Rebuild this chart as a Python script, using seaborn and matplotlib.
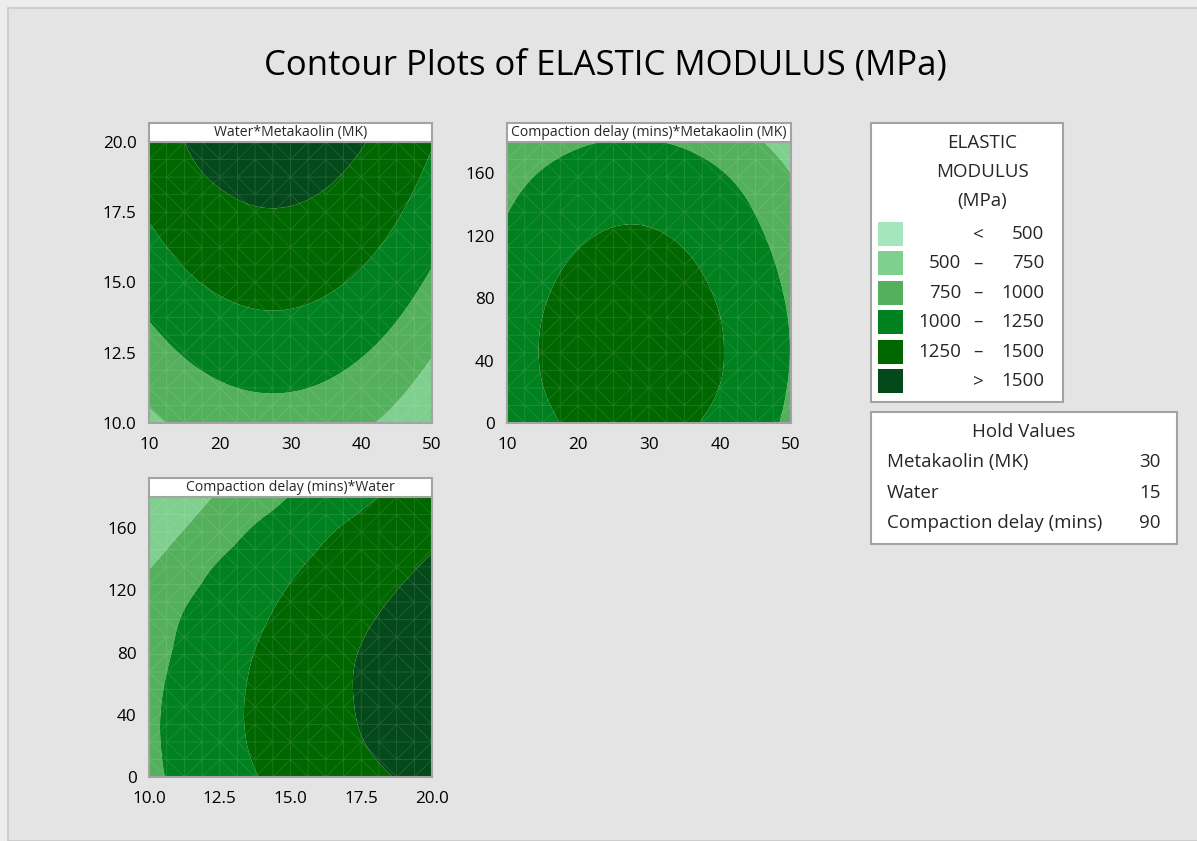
import numpy as np
import matplotlib
matplotlib.use("Agg")
import matplotlib.pyplot as plt
import matplotlib.tri as mtri
from matplotlib.patches import Rectangle
import seaborn as sns

# ---------------- data ----------------
mk_vals = [10, 15, 20, 25, 30, 35, 40, 45, 50]
water_vals = [10, 11.25, 12.5, 13.75, 15, 16.25, 17.5, 18.75, 20]
delay_vals = [0, 22.5, 45, 67.5, 90, 112.5, 135, 157.5, 180]

# rows: water, columns: metakaolin  (delay held at 90)
em_water_mk = [
    [705, 795, 860, 896, 896, 860, 788, 680, 536],
    [805, 906, 978, 1014, 1014, 978, 906, 798, 654],
    [908, 1016, 1088, 1124, 1124, 1088, 1016, 908, 764],
    [1010, 1118, 1190, 1226, 1226, 1190, 1118, 1010, 866],
    [1105, 1213, 1285, 1321, 1321, 1285, 1213, 1105, 961],
    [1192, 1300, 1372, 1408, 1408, 1372, 1300, 1192, 1048],
    [1271, 1379, 1451, 1487, 1487, 1451, 1379, 1271, 1127],
    [1342, 1450, 1522, 1558, 1558, 1522, 1450, 1342, 1198],
    [1405, 1500, 1585, 1621, 1621, 1585, 1513, 1405, 1261],
]
# rows: delay, columns: metakaolin  (water held at 15)
em_delay_mk = [
    [1097, 1205, 1287, 1325, 1325, 1280, 1200, 1097, 945],
    [1133, 1247, 1323, 1361, 1361, 1323, 1247, 1133, 981],
    [1147, 1261, 1337, 1375, 1375, 1337, 1261, 1147, 995],
    [1137, 1251, 1327, 1365, 1365, 1327, 1251, 1137, 985],
    [1105, 1219, 1295, 1333, 1333, 1295, 1219, 1105, 953],
    [1057, 1171, 1247, 1285, 1285, 1247, 1171, 1057, 905],
    [995, 1109, 1185, 1223, 1223, 1185, 1109, 995, 843],
    [912, 1026, 1102, 1140, 1140, 1102, 1026, 912, 760],
    [782, 896, 972, 1010, 1010, 972, 896, 782, 630],
]
# rows: delay, columns: water  (metakaolin held at 30)
em_delay_water = [
    [952, 1056, 1149, 1242, 1310, 1376, 1442, 1507, 1563],
    [964, 1072, 1176, 1271, 1345, 1420, 1494, 1560, 1625],
    [962, 1073, 1181, 1278, 1358, 1437, 1514, 1582, 1651],
    [941, 1055, 1163, 1267, 1351, 1436, 1517, 1590, 1662],
    [914, 1029, 1133, 1237, 1324, 1409, 1493, 1567, 1639],
    [867, 987, 1089, 1189, 1282, 1362, 1442, 1520, 1593],
    [740, 884, 1023, 1121, 1219, 1302, 1378, 1454, 1528],
    [630, 760, 898, 1028, 1129, 1230, 1308, 1380, 1453],
    [520, 650, 775, 889, 1008, 1108, 1208, 1293, 1371],
]

level_bounds = [500, 750, 1000, 1250, 1500]
level_colors = ["#A6E6BF", "#7FCF8E", "#54B05C", "#00801F", "#006600", "#04491A"]
legend_rows = [("", "<", "500"), ("500", "\u2013", "750"), ("750", "\u2013", "1000"),
               ("1000", "\u2013", "1250"), ("1250", "\u2013", "1500"), ("", ">", "1500")]
hold_names = ["Metakaolin (MK)", "Water", "Compaction delay (mins)"]
hold_values = ["30", "15", "90"]

# ---------------- style ----------------
sns.set_theme(style="white")
plt.rcParams["font.family"] = ["Open Sans", "DejaVu Sans"]
plt.rcParams["font.weight"] = 500

W, H = 1197, 841
fig = plt.figure(figsize=(W / 100, H / 100), dpi=100)
fig.patch.set_facecolor("#EDEDED")

def fx(x):
    return x / W

def fy(y):
    return 1 - y / H

# background frame
fig.add_artist(Rectangle((fx(7.5), 0), 1, fy(7.5), transform=fig.transFigure,
                         facecolor="#E4E4E4", edgecolor="#C9C9C9", lw=1.2, zorder=-10))

fig.text(fx(605), fy(66), "Contour Plots of ELASTIC MODULUS (MPa)", ha="center", va="center",
         fontsize=25, color="black")

levels = [-1e5] + level_bounds + [1e5]
spine_col = "#A3A3A3"


def draw_panel(rect, xs, ys, Z, title, xticks, yticks, xfmt, yfmt):
    ax = fig.add_axes(rect)
    xs = np.asarray(xs, float)
    ys = np.asarray(ys, float)
    Z = np.asarray(Z, float)
    X, Y = np.meshgrid(xs, ys)
    xr = xs[-1] - xs[0]
    yr = ys[-1] - ys[0]
    tri = mtri.Triangulation(((X - xs[0]) / xr).ravel(), ((Y - ys[0]) / yr).ravel())
    refiner = mtri.UniformTriRefiner(tri)
    tri_r, z_r = refiner.refine_field(Z.ravel(), subdiv=4)
    tri_p = mtri.Triangulation(xs[0] + tri_r.x * xr, ys[0] + tri_r.y * yr, tri_r.triangles)
    ax.tricontourf(tri_p, z_r, levels=levels, colors=level_colors, antialiased=True)
    tri_m = refiner.refine_triangulation(subdiv=1)
    tri_mp = mtri.Triangulation(xs[0] + tri_m.x * xr, ys[0] + tri_m.y * yr, tri_m.triangles)
    ax.triplot(tri_mp, color="white", alpha=0.13, lw=0.6)
    ax.set_xlim(xs[0], xs[-1])
    ax.set_ylim(ys[0], ys[-1])
    ax.set_xticks(xticks)
    ax.set_yticks(yticks)
    ax.set_xticklabels([xfmt.format(v) for v in xticks])
    ax.set_yticklabels([yfmt.format(v) for v in yticks])
    ax.tick_params(direction="out", length=7, width=1.3, color="#8E8E8E",
                   labelsize=12.3, pad=2, labelcolor="black")
    ax.tick_params(axis="x", pad=3)
    for s in ax.spines.values():
        s.set_color(spine_col)
        s.set_linewidth(1.5)
    ax.set_xlabel("")
    ax.set_ylabel("")
    # title bar
    hbar = 19 / (rect[3] * H)
    ax.add_patch(Rectangle((0, 1), 1, hbar, transform=ax.transAxes, clip_on=False,
                           facecolor="white", edgecolor=spine_col, lw=1.5, zorder=5))
    ax.text(0.5, 1 + hbar / 2, title, transform=ax.transAxes, ha="center", va="center",
            fontsize=10.1, zorder=6)
    return ax


draw_panel([fx(149), fy(423), 283 / W, 281 / H], mk_vals, water_vals, em_water_mk,
           "Water*Metakaolin (MK)", [10, 20, 30, 40, 50], [10, 12.5, 15, 17.5, 20],
           "{:.0f}", "{:.1f}")
draw_panel([fx(507), fy(423), 284 / W, 281 / H], mk_vals, delay_vals, em_delay_mk,
           "Compaction delay (mins)*Metakaolin (MK)", [10, 20, 30, 40, 50], [0, 40, 80, 120, 160],
           "{:.0f}", "{:.0f}")
draw_panel([fx(149), fy(777), 283 / W, 280 / H], water_vals, delay_vals, em_delay_water,
           "Compaction delay (mins)*Water", [10, 12.5, 15, 17.5, 20], [0, 40, 80, 120, 160],
           "{:.1f}", "{:.0f}")

# ---------------- legend box ----------------
fig.add_artist(Rectangle((fx(871), fy(402)), (1063 - 871) / W, (402 - 123) / H,
                         transform=fig.transFigure, facecolor="white", edgecolor=spine_col,
                         lw=1.5, zorder=2))
for i, line in enumerate(["ELASTIC", "MODULUS", "(MPa)"]):
    fig.text(fx(982), fy(143 + 29 * i), line, ha="center", va="center", fontsize=13.5, zorder=3)
for i, (lo, sep, hi) in enumerate(legend_rows):
    yc = 234 + 29.4 * i
    fig.add_artist(Rectangle((fx(878), fy(yc + 12)), 25 / W, 24 / H, transform=fig.transFigure,
                             facecolor=level_colors[i], edgecolor="none", zorder=3))
    if lo:
        fig.text(fx(961), fy(yc), lo, ha="right", va="center", fontsize=13.5, zorder=3)
    fig.text(fx(978), fy(yc), sep, ha="center", va="center", fontsize=13.5, zorder=3)
    fig.text(fx(1044), fy(yc), hi, ha="right", va="center", fontsize=13.5, zorder=3)

# ---------------- hold values box ----------------
fig.add_artist(Rectangle((fx(871), fy(544)), (1177 - 871) / W, (544 - 412) / H,
                         transform=fig.transFigure, facecolor="white", edgecolor=spine_col,
                         lw=1.5, zorder=2))
fig.text(fx(1024), fy(432), "Hold Values", ha="center", va="center", fontsize=13.5, zorder=3)
for i, (n, v) in enumerate(zip(hold_names, hold_values)):
    yc = 462 + 30.5 * i
    fig.text(fx(887), fy(yc), n, ha="left", va="center", fontsize=13.5, zorder=3)
    fig.text(fx(1161), fy(yc), v, ha="right", va="center", fontsize=13.5, zorder=3)

fig.savefig("out.png", dpi=100, facecolor=fig.get_facecolor())
